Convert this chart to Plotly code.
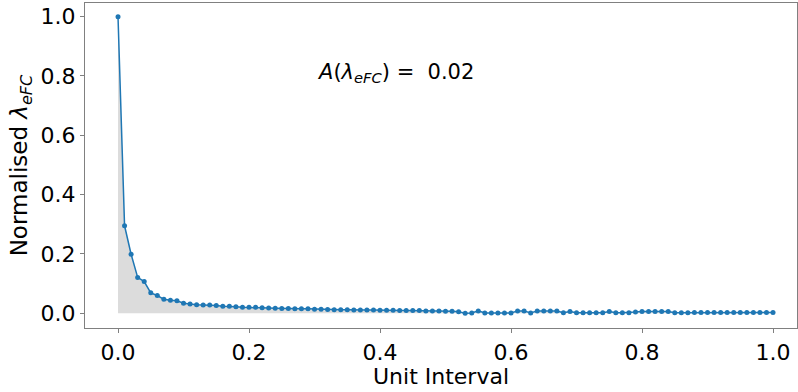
import plotly.graph_objects as go

x_vals = [i / 100 for i in range(101)]
y_vals = [
    1.0, 0.295, 0.199, 0.121, 0.107, 0.069, 0.060, 0.047, 0.044, 0.042,
    0.034, 0.031, 0.029, 0.028, 0.028, 0.026, 0.024, 0.024, 0.022, 0.020,
    0.020, 0.020, 0.019, 0.018, 0.017, 0.016, 0.016, 0.015, 0.015, 0.015,
    0.014, 0.014, 0.013, 0.012, 0.012, 0.012, 0.011, 0.011, 0.011, 0.011,
    0.010, 0.010, 0.010, 0.009, 0.009, 0.009, 0.009, 0.008, 0.008, 0.008,
    0.007, 0.007, 0.005, 0.000, 0.001, 0.008, 0.001, 0.001, 0.001, 0.001,
    0.001, 0.008, 0.008, 0.001, 0.008, 0.008, 0.008, 0.008, 0.002, 0.006,
    0.002, 0.002, 0.002, 0.002, 0.002, 0.006, 0.002, 0.002, 0.002, 0.004,
    0.006, 0.006, 0.006, 0.006, 0.006, 0.002, 0.002, 0.002, 0.003, 0.003,
    0.003, 0.003, 0.003, 0.003, 0.003, 0.003, 0.003, 0.003, 0.003, 0.003,
    0.003,
]
x_ticks = [0.0, 0.2, 0.4, 0.6, 0.8, 1.0]
y_ticks = [0.0, 0.2, 0.4, 0.6, 0.8, 1.0]
area_value = "0.02"

FONT = "DejaVu Sans"
GREY = "#808080"

fig = go.Figure()
fig.add_trace(go.Scatter(
    x=x_vals, y=y_vals, mode="lines", fill="tozeroy",
    fillcolor="#dcdcdc", line=dict(width=0), hoverinfo="skip", showlegend=False,
))
fig.add_trace(go.Scatter(
    x=x_vals, y=y_vals, mode="lines+markers",
    line=dict(color="#1f77b4", width=1.5),
    marker=dict(color="#1f77b4", size=5),
    showlegend=False,
))

fig.add_annotation(
    x=0.3, y=0.81, xref="x", yref="y", xanchor="left", yanchor="middle",
    text="<i>A</i>(<i>λ</i><sub><i>eFC</i></sub>) =  " + area_value,
    showarrow=False, font=dict(family=FONT, size=21, color="black"),
)

axis_common = dict(
    showgrid=False, zeroline=False, showline=True, linecolor=GREY, linewidth=1.2,
    mirror=True, ticks="outside", tickcolor=GREY, ticklen=4, tickwidth=1,
    tickfont=dict(family=FONT, size=22, color="black"),
)
fig.update_xaxes(
    range=[-0.0504, 1.0366], tickvals=x_ticks, ticktext=[f"{t:.1f}" for t in x_ticks],
    title=dict(text="Unit Interval", font=dict(family=FONT, size=22, color="black"), standoff=4),
    **axis_common,
)
fig.update_yaxes(
    range=[-0.0496, 1.046], tickvals=y_ticks, ticktext=[f"{t:.1f}" for t in y_ticks],
    title=dict(text="Normalised <i>λ</i><sub><i>eFC</i></sub>",
               font=dict(family=FONT, size=23, color="black"), standoff=6),
    **axis_common,
)
fig.update_layout(
    width=798, height=392, margin=dict(l=85, r=1, t=3, b=64),
    plot_bgcolor="white", paper_bgcolor="white",
    font=dict(family=FONT),
)
fig.write_html("out.html")
